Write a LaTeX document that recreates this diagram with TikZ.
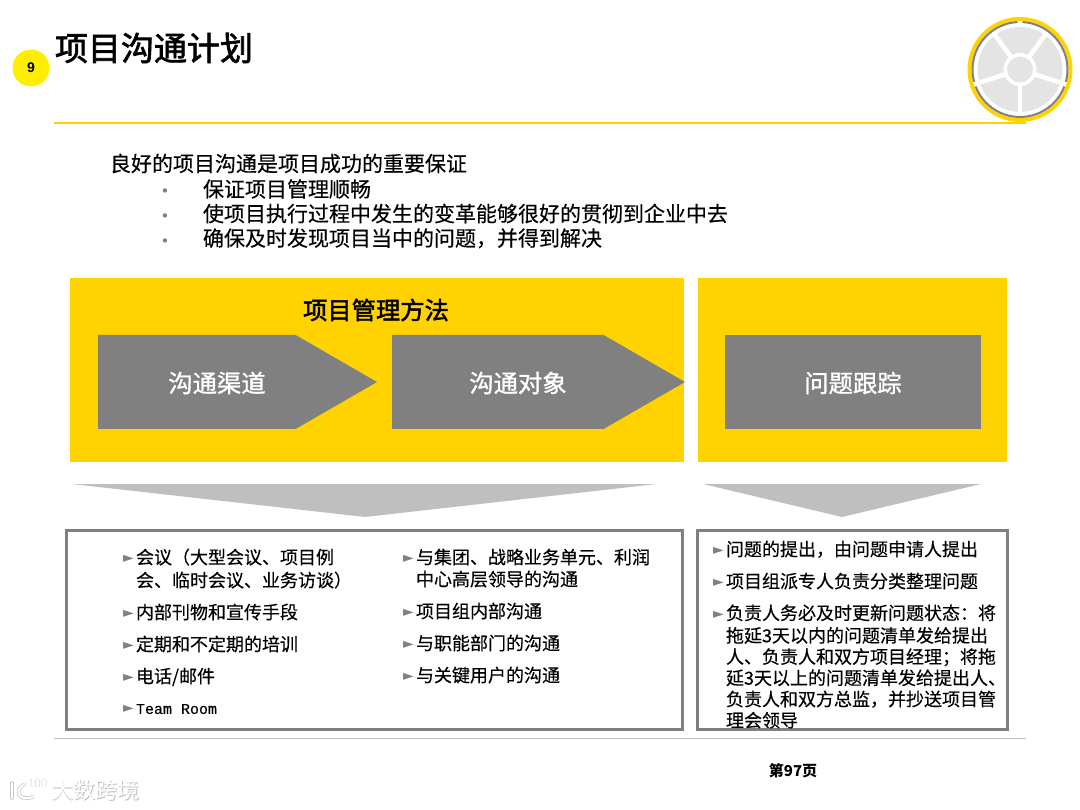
\documentclass[tikz,border=0pt]{standalone}
\usepackage{xcolor}
\usepackage{fontspec}
\setmainfont{Noto Sans CJK SC}
\newfontfamily\bodyfont[FakeBold=0.3]{Noto Sans CJK SC}
\newfontfamily\headfont[FakeBold=1.2]{Noto Sans CJK SC}
\newfontfamily\titlefont[FakeBold=2]{Noto Sans CJK SC}
\newfontfamily\markfont{DejaVu Sans}
\newfontfamily\latinfont{Liberation Sans}
\newfontfamily\monofont[FakeBold=0.4]{Liberation Mono}
\usepackage{tikz}
\usetikzlibrary{shapes.symbols, positioning, calc}
\definecolor{brandyellow}{RGB}{255, 210, 0}
\definecolor{blockgrey}{RGB}{128, 128, 128}
\definecolor{wedgegrey}{RGB}{191, 191, 191}
\definecolor{wheelgrey}{RGB}{228, 228, 228}
\definecolor{rulegrey}{RGB}{190, 190, 190}
\newcommand{\mk}{\strut\llap{\raisebox{1pt}{\markfont\fontsize{14}{14}\selectfont\textcolor{blockgrey}{►}}\hspace{2pt}}}
\newcommand{\dotmk}{\llap{{\markfont\fontsize{15}{15}\selectfont\textcolor{blockgrey}{•}}\hspace{33.5pt}}}

\begin{document}
\begin{tikzpicture}[
    x=1pt, y=-1pt,
    every node/.style={inner sep=0pt, outer sep=0pt},
    panel/.style={rectangle, fill=brandyellow, minimum height=184pt},
    block/.style={rectangle, fill=blockgrey, minimum height=94pt},
    arrowblock/.style={signal, signal to=east, signal from=nowhere, signal pointer angle=60, fill=blockgrey, minimum height=94pt},
    blocktext/.style={text=white, font=\headfont\fontsize{24.3}{28}\selectfont},
    wedge/.style={fill=wedgegrey},
    frame/.style={rectangle, draw=blockgrey, line width=3pt, fill=white, minimum height=198.5pt},
    introline/.style={anchor=west, font=\bodyfont\fontsize{21}{25}\selectfont},
    item/.style={align=left, anchor=north west, font=\bodyfont\fontsize{18}{22}\selectfont},
    marktext/.style={anchor=west, font=\fontsize{22}{24}\selectfont},
    logotext/.style={anchor=west, font=\latinfont\fontsize{12}{14}\selectfont}
]
\useasboundingbox (0,0) rectangle (1080,810);

% Title
\node[circle, fill=yellow!90!brandyellow, minimum size=37pt, font=\latinfont\bfseries\fontsize{14}{16}\selectfont] (num) at (31,68) {9};
\node[anchor=west, font=\titlefont\fontsize{33}{38}\selectfont] (title) at (55,48) {项目沟通计划};
\draw[brandyellow, line width=2pt] (54,123) -- (1026,123);

% Wheel
\coordinate (hub) at (1020,69.5);
\fill[brandyellow] (hub) circle (52.5);
\fill[white] (hub) circle (48.5);
\foreach \startang/\endang in {-93/-195, -201/-339, 15/-87}
  \draw[blockgrey, line width=2pt] ($(hub)+(\startang:47.5)$) arc[start angle=\startang, end angle=\endang, radius=47.5];
\fill[wheelgrey] (hub) circle (42.5);
\foreach \ang in {-54,-126,-198,-270,-342}
  \draw[white, line width=4.5pt] (hub) -- +(\ang:44);
\fill[white] (hub) circle (16.5);
\fill[wheelgrey] (hub) circle (13);

% Intro text
\node[introline] (goal) at (110,163.5) {良好的项目沟通是项目成功的重要保证};
\node[introline] (goal1) at (203,189) {\dotmk 保证项目管理顺畅};
\node[introline, below=5pt of goal1.south west, anchor=north west] (goal2) {\dotmk 使项目执行过程中发生的变革能够很好的贯彻到企业中去};
\node[introline, below=5pt of goal2.south west, anchor=north west] (goal3) {\dotmk 确保及时发现项目当中的问题，并得到解决};

% Method panels
\node[panel, anchor=north west, minimum width=614pt] (methodpanel) at (70,278) {};
\node[panel, anchor=north west, minimum width=309pt] (trackpanel) at (698,278) {};
\node[font=\titlefont\fontsize{24.3}{28}\selectfont] (methodtitle) at (376,310) {项目管理方法};
\node[arrowblock, anchor=west, minimum width=279pt] (channel) at (98,382) {};
\node[arrowblock, anchor=west, minimum width=293pt] (audience) at (392,382) {};
\node[block, anchor=west, minimum width=256pt] (track) at (725,382) {};
\node[blocktext] (channeltext) at (217,383) {沟通渠道};
\node[blocktext] (audiencetext) at (518,383) {沟通对象};
\node[blocktext] (tracktext) at (853,383) {问题跟踪};

% Wedges
\fill[wedge] (72,484) -- (657,484) -- (365,517) -- cycle;
\fill[wedge] (703,484) -- (981,484) -- (842,517) -- cycle;

% Lists
\node[frame, anchor=north west, minimum width=616pt] (leftframe) at (66.5,530.5) {};
\node[frame, anchor=north west, minimum width=310pt] (rightframe) at (697.5,530.5) {};

\node[item] (ch1) at (136,548.5) {\mk 会议（大型会议、项目例\\会、临时会议、业务访谈）\strut};
\node[item, below=10pt of ch1.south west, anchor=north west] (ch2) {\mk 内部刊物和宣传手段};
\node[item, below=10pt of ch2.south west, anchor=north west] (ch3) {\mk 定期和不定期的培训};
\node[item, below=10pt of ch3.south west, anchor=north west] (ch4) {\mk 电话/邮件};
\node[item, below=9pt of ch4.south west, anchor=north west] (ch5) {\mk {\monofont\fontsize{15}{22}\selectfont Team Room}};

\node[item] (au1) at (416,548.5) {\mk 与集团、战略业务单元、利润\\中心高层领导的沟通\strut};
\node[item, below=10pt of au1.south west, anchor=north west] (au2) {\mk 项目组内部沟通};
\node[item, below=10pt of au2.south west, anchor=north west] (au3) {\mk 与职能部门的沟通};
\node[item, below=10pt of au3.south west, anchor=north west] (au4) {\mk 与关键用户的沟通};

\node[item] (tr1) at (726,540.5) {\mk 问题的提出，由问题申请人提出};
\node[item, below=10pt of tr1.south west, anchor=north west] (tr2) {\mk 项目组派专人负责分类整理问题};
\node[item, below=10pt of tr2.south west, anchor=north west, font=\bodyfont\fontsize{18}{21.2}\selectfont] (tr3) {\mk 负责人务必及时更新问题状态：将\\拖延3天以内的问题清单发给提出\\人、负责人和双方项目经理；将拖\\延3天以上的问题清单发给提出人、\\负责人和双方总监，并抄送项目管\\理会领导};

% Footer
\draw[rulegrey, line width=1pt] (54,738) -- (1026,738);
\node[font=\bfseries\fontsize{15}{18}\selectfont] (page) at (793,771) {第97页};
\node[marktext, text=black!25] (markshadow) at (52.8,790.8) {大数跨境};
\node[marktext, text=white] (marktext) at (52,790) {大数跨境};
\node[logotext, text=black!25] (logoshadow) at (27.4,783.4) {100};
\node[logotext, text=white] (logotext) at (27,783) {100};
\draw[black!22, line width=3.5pt, line cap=round] (12,783) -- (12,798);
\draw[black!22, line width=3.5pt, line cap=round] (25,784) .. controls (14,789) and (17,802) .. (33,797);
\draw[white, line width=2pt, line cap=round] (12,783) -- (12,798);
\draw[white, line width=2pt, line cap=round] (25,784) .. controls (14,789) and (17,802) .. (33,797);
\end{tikzpicture}
\end{document}
